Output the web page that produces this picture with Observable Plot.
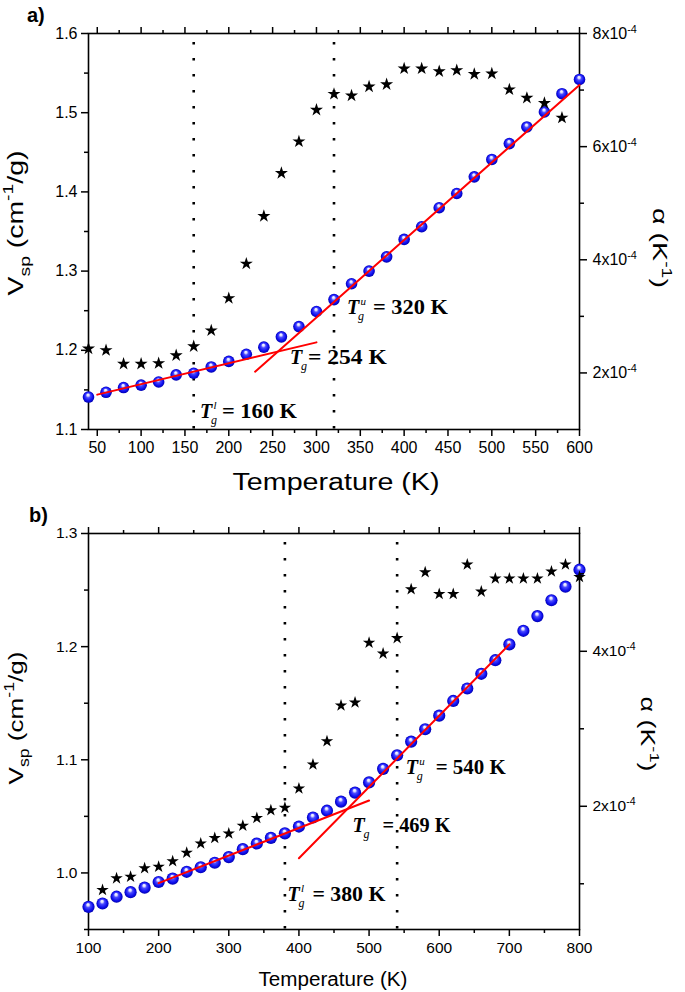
<!DOCTYPE html>
<html><head><meta charset="utf-8">
<script src="https://cdn.jsdelivr.net/npm/d3@7"></script>
<script src="https://cdn.jsdelivr.net/npm/@observablehq/plot@0.6"></script>
<style>
body{margin:0;background:#fff;}
#wrap{position:relative;width:685px;height:992px;overflow:hidden;background:#fff;}
#wrap svg{position:absolute;left:0;}
</style></head><body>
<svg width="0" height="0" style="position:absolute">
<defs>
<radialGradient id="ball" cx="0.5" cy="0.5" r="0.5" fx="0.45" fy="0.28">
<stop offset="0" stop-color="#ffffff"/>
<stop offset="0.2" stop-color="#d8d8ff"/>
<stop offset="0.4" stop-color="#4a4aff"/>
<stop offset="0.75" stop-color="#1010f0"/>
<stop offset="1" stop-color="#0000b0"/>
</radialGradient></defs></svg>
<div id="wrap"></div>
<script>
// ---------- Panel a data ----------
const tempA = [40,60,80,100,120,140,160,180,200,220,240,260,280,300,320,340,360,380,400,420,440,460,480,500,520,540,560,580,600];
const vspA = [1.141,1.147,1.153,1.156,1.160,1.169,1.171,1.179,1.186,1.195,1.204,1.217,1.230,1.249,1.264,1.284,1.300,1.318,1.340,1.356,1.380,1.398,1.419,1.441,1.461,1.482,1.501,1.524,1.542];
const alphaTempA = [40,60,80,100,120,140,160,180,200,220,240,260,280,300,320,340,360,380,400,420,440,460,480,500,520,540,560,580];
const alphaA = [2.43e-4,2.40e-4,2.16e-4,2.16e-4,2.17e-4,2.31e-4,2.47e-4,2.75e-4,3.32e-4,3.93e-4,4.77e-4,5.53e-4,6.09e-4,6.65e-4,6.93e-4,6.90e-4,7.06e-4,7.10e-4,7.38e-4,7.38e-4,7.33e-4,7.35e-4,7.28e-4,7.29e-4,7.01e-4,6.86e-4,6.77e-4,6.51e-4];
const fitA1T = [50, 300], fitA1V = [1.144, 1.210];
const fitA2T = [230, 600], fitA2V = [1.173, 1.535];
const tgLinesA = [160, 320];
const xTicksA = [50,100,150,200,250,300,350,400,450,500,550,600];
const xMinorA = [75,125,175,225,275,325,375,425,475,525,575];
const vTicksA = [1.1,1.2,1.3,1.4,1.5,1.6];
const vMinorA = [1.15,1.25,1.35,1.45,1.55];
const aTicksA = [2e-4,4e-4,6e-4,8e-4];
const aMinorA = [3e-4,5e-4,7e-4];

// ---------- Panel b data ----------
const tempB = [100,120,140,160,180,200,220,240,260,280,300,320,340,360,380,400,420,440,460,480,500,520,540,560,580,600,620,640,660,680,700,720,740,760,780,800];
const vspB = [0.970,0.973,0.979,0.983,0.987,0.992,0.995,1.001,1.005,1.009,1.014,1.021,1.026,1.031,1.035,1.041,1.049,1.055,1.063,1.071,1.080,1.092,1.104,1.116,1.127,1.139,1.152,1.163,1.176,1.188,1.202,1.214,1.227,1.241,1.253,1.268];
const alphaTempB = [120,140,160,180,200,220,240,260,280,300,320,340,360,380,400,420,440,460,480,500,520,540,560,580,600,620,640,660,680,700,720,740,760,780,800];
const alphaB = [0.92e-4,1.07e-4,1.09e-4,1.20e-4,1.22e-4,1.29e-4,1.40e-4,1.52e-4,1.59e-4,1.65e-4,1.75e-4,1.85e-4,1.95e-4,1.98e-4,2.23e-4,2.54e-4,2.84e-4,3.30e-4,3.34e-4,4.11e-4,3.97e-4,4.17e-4,4.80e-4,5.02e-4,4.74e-4,4.74e-4,5.12e-4,4.77e-4,4.94e-4,4.94e-4,4.94e-4,4.94e-4,5.03e-4,5.12e-4,4.96e-4];
const fitB1T = [200, 500], fitB1V = [0.991, 1.064];
const fitB2T = [400, 700], fitB2V = [1.013, 1.202];
const tgLinesB = [380, 540];
const xTicksB = [100,200,300,400,500,600,700,800];
const xMinorB = [150,250,350,450,550,650,750];
const vTicksB = [1.0,1.1,1.2,1.3];
const vMinorB = [0.95,1.05,1.15,1.25];
const aTicksB = [2e-4,4e-4];
const aMinorB = [1e-4,3e-4,5e-4];

// ---------- rendering ----------
const W = 685;
const FONT = "Arial, 'Liberation Sans', Helvetica, sans-serif";
const SERIF = "'Liberation Serif', 'Times New Roman', Times, serif";
const wrap = document.getElementById("wrap");

function rows(T, V, key) { return T.map((t, i) => ({T: t, V: V[i], k: key})); }

function rich(svg, o, segs) {
  const size = o.size;
  const t = d3.select(svg).append("text")
    .attr("transform", `translate(${o.x},${o.y}) rotate(${o.rotate || 0})`)
    .attr("text-anchor", o.anchor || "middle")
    .attr("font-family", o.family || FONT)
    .attr("font-size", size)
    .attr("font-weight", o.weight || "normal")
    .attr("font-style", o.style || "normal")
    .attr("fill", "black");
  if (o.length) t.attr("textLength", o.length).attr("lengthAdjust", "spacingAndGlyphs");
  let cur = 0;
  for (const s of segs) {
    const shift = s.sub ? 0.3 : s.sup ? -0.45 : 0;
    const ts = t.append("tspan").text(s.t);
    if (s.sub || s.sup) ts.attr("font-size", size * 0.68);
    const dy = (shift - cur) * size;
    if (dy) ts.attr("dy", dy);
    cur = shift;
  }
  return t;
}

function tgLabel(svg, px, py, sup, rest, gap, restLen) {
  const g = d3.select(svg).append("g").attr("font-family", SERIF).attr("fill", "black").attr("text-anchor", "start");
  g.append("text").attr("x", px).attr("y", py).attr("font-size", 20).attr("font-weight", "bold").attr("font-style", "italic").text("T");
  g.append("text").attr("x", px + 11).attr("y", py + 6).attr("font-size", 12).attr("font-style", "italic").text("g");
  if (sup) g.append("text").attr("x", px + 13.5).attr("y", py - 9).attr("font-size", 11).attr("font-style", "italic").text(sup);
  g.append("text").attr("x", px + gap).attr("y", py).attr("font-size", 20).attr("font-weight", "bold")
    .attr("textLength", restLen).attr("lengthAdjust", "spacingAndGlyphs").text(rest);
}

function supFix(svg) {
  d3.select(svg).selectAll("text").each(function () {
    const s = this.textContent;
    const m = s.match(/^(.*)\^(.*)$/);
    if (m) {
      const t = d3.select(this);
      t.text(null);
      t.append("tspan").text(m[1]);
      t.append("tspan").attr("dy", "-0.55em").attr("font-size", "0.68em").text(m[2]);
    }
  });
}

function panel(c) {
  const base = {
    width: W, height: c.height, marginLeft: 88, marginRight: 106, marginTop: 33, marginBottom: c.mb,
    style: {background: "transparent", color: "black", fontFamily: FONT, fontSize: c.fs + "px", overflow: "visible"}
  };
  const ax = {stroke: "black", strokeWidth: 1.5, label: null, fontSize: c.fs};
  const fits = rows(c.f1T, c.f1V, "f1").concat(rows(c.f2T, c.f2V, "f2"));
  const p1 = Plot.plot({
    ...base,
    x: {domain: c.xDomain},
    y: {domain: c.yDomain},
    marks: [
      Plot.frame({stroke: "black", strokeWidth: 1.6}),
      Plot.axisX({...ax, anchor: "bottom", ticks: c.xTicks, tickSize: 7, tickPadding: 5, tickFormat: d => String(d)}),
      Plot.axisX({...ax, anchor: "bottom", ticks: c.xMinor, tickSize: 4, text: null}),
      Plot.axisX({...ax, anchor: "top", ticks: c.xTicks, tickSize: 7, text: null}),
      Plot.axisX({...ax, anchor: "top", ticks: c.xMinor, tickSize: 4, text: null}),
      Plot.axisY({...ax, anchor: "left", ticks: c.vTicks, tickSize: 7, tickPadding: 4, tickFormat: ".1f"}),
      Plot.axisY({...ax, anchor: "left", ticks: c.vMinor, tickSize: 4, text: null}),
      Plot.ruleX(c.tg, {stroke: "black", strokeWidth: 2.6, strokeDasharray: "2.6,13.4", strokeDashoffset: 7}),
      Plot.dot(rows(c.T, c.V, "v"), {x: "T", y: "V", r: c.r, fill: "url(#ball)", stroke: "none"}),
      Plot.line(fits, {x: "T", y: "V", z: "k", stroke: "#ff0000", strokeWidth: 2})
    ]
  });
  const p2 = Plot.plot({
    ...base,
    x: {domain: c.xDomain, axis: null},
    y: {domain: c.aDomain},
    marks: [
      Plot.axisY({...ax, anchor: "right", ticks: c.aTicks, tickSize: 7, tickPadding: 6, tickFormat: d => `${Math.round(d / 1e-4)}x10^-4`}),
      Plot.axisY({...ax, anchor: "right", ticks: c.aMinor, tickSize: 4, text: null}),
      Plot.dot(rows(c.aT, c.A, "a"), {x: "T", y: "V", r: c.sr, symbol: "star", fill: "black", stroke: "none"})
    ]
  });
  supFix(p2);
  for (const s of [p1, p2]) { s.style.top = c.top + "px"; wrap.appendChild(s); }
  return {p1, p2, x: p1.scale("x"), y: p1.scale("y")};
}

// Panel a
const A = panel({
  top: 0, height: 500, mb: 71, fs: 16, r: 5.8, sr: 4.1,
  xDomain: [40, 600], yDomain: [1.1, 1.6], aDomain: [1e-4, 8e-4],
  T: tempA, V: vspA, aT: alphaTempA, A: alphaA,
  f1T: fitA1T, f1V: fitA1V, f2T: fitA2T, f2V: fitA2V, tg: tgLinesA,
  xTicks: xTicksA, xMinor: xMinorA, vTicks: vTicksA, vMinor: vMinorA, aTicks: aTicksA, aMinor: aMinorA
});
rich(A.p1, {x: 23, y: 223, rotate: -90, size: 22, length: 145}, [{t: "V"}, {t: "sp", sub: 1}, {t: " (cm"}, {t: "-1", sup: 1}, {t: "/g)"}]);
rich(A.p2, {x: 653, y: 248, rotate: 90, size: 21, length: 80}, [{t: "α (K"}, {t: "-1", sup: 1}, {t: ")"}]);
rich(A.p1, {x: 336, y: 490, size: 23, length: 207}, [{t: "Temperature (K)"}]);
rich(A.p1, {x: 27, y: 22, size: 20, weight: "bold", anchor: "start"}, [{t: "a)"}]);
tgLabel(A.p1, A.x.apply(167.7), A.y.apply(1.1139), "l", "= 160 K", 22, 75);
tgLabel(A.p1, A.x.apply(270.3), A.y.apply(1.182), null, "= 254 K", 18, 79);
tgLabel(A.p1, A.x.apply(335.3), A.y.apply(1.2452), "u", "= 320 K", 26, 75);

// Panel b
const B = panel({
  top: 500, height: 492, mb: 63, fs: 15.5, r: 6.1, sr: 3.9,
  xDomain: [100, 800], yDomain: [0.95, 1.3], aDomain: [0.41e-4, 5.52e-4],
  T: tempB, V: vspB, aT: alphaTempB, A: alphaB,
  f1T: fitB1T, f1V: fitB1V, f2T: fitB2T, f2V: fitB2V, tg: tgLinesB,
  xTicks: xTicksB, xMinor: xMinorB, vTicks: vTicksB, vMinor: vMinorB, aTicks: aTicksB, aMinor: aMinorB
});
rich(B.p1, {x: 23, y: 218, rotate: -90, size: 21, length: 133}, [{t: "V"}, {t: "sp", sub: 1}, {t: " (cm"}, {t: "-1", sup: 1}, {t: "/g)"}]);
rich(B.p2, {x: 641, y: 234, rotate: 90, size: 20, length: 75}, [{t: "α (K"}, {t: "-1", sup: 1}, {t: ")"}]);
rich(B.p1, {x: 333, y: 486, size: 20, length: 149}, [{t: "Temperature (K)"}]);
rich(B.p1, {x: 29, y: 22, size: 20, weight: "bold", anchor: "start"}, [{t: "b)"}]);
tgLabel(B.p1, B.x.apply(384.3), B.y.apply(0.9747), "l", "= 380 K", 25, 73);
tgLabel(B.p1, B.x.apply(477.1), B.y.apply(1.0357), null, "= 469 K", 30, 68);
tgLabel(B.p1, B.x.apply(552.9), B.y.apply(1.087), "u", "= 540 K", 30, 70);
</script>
</body></html>
